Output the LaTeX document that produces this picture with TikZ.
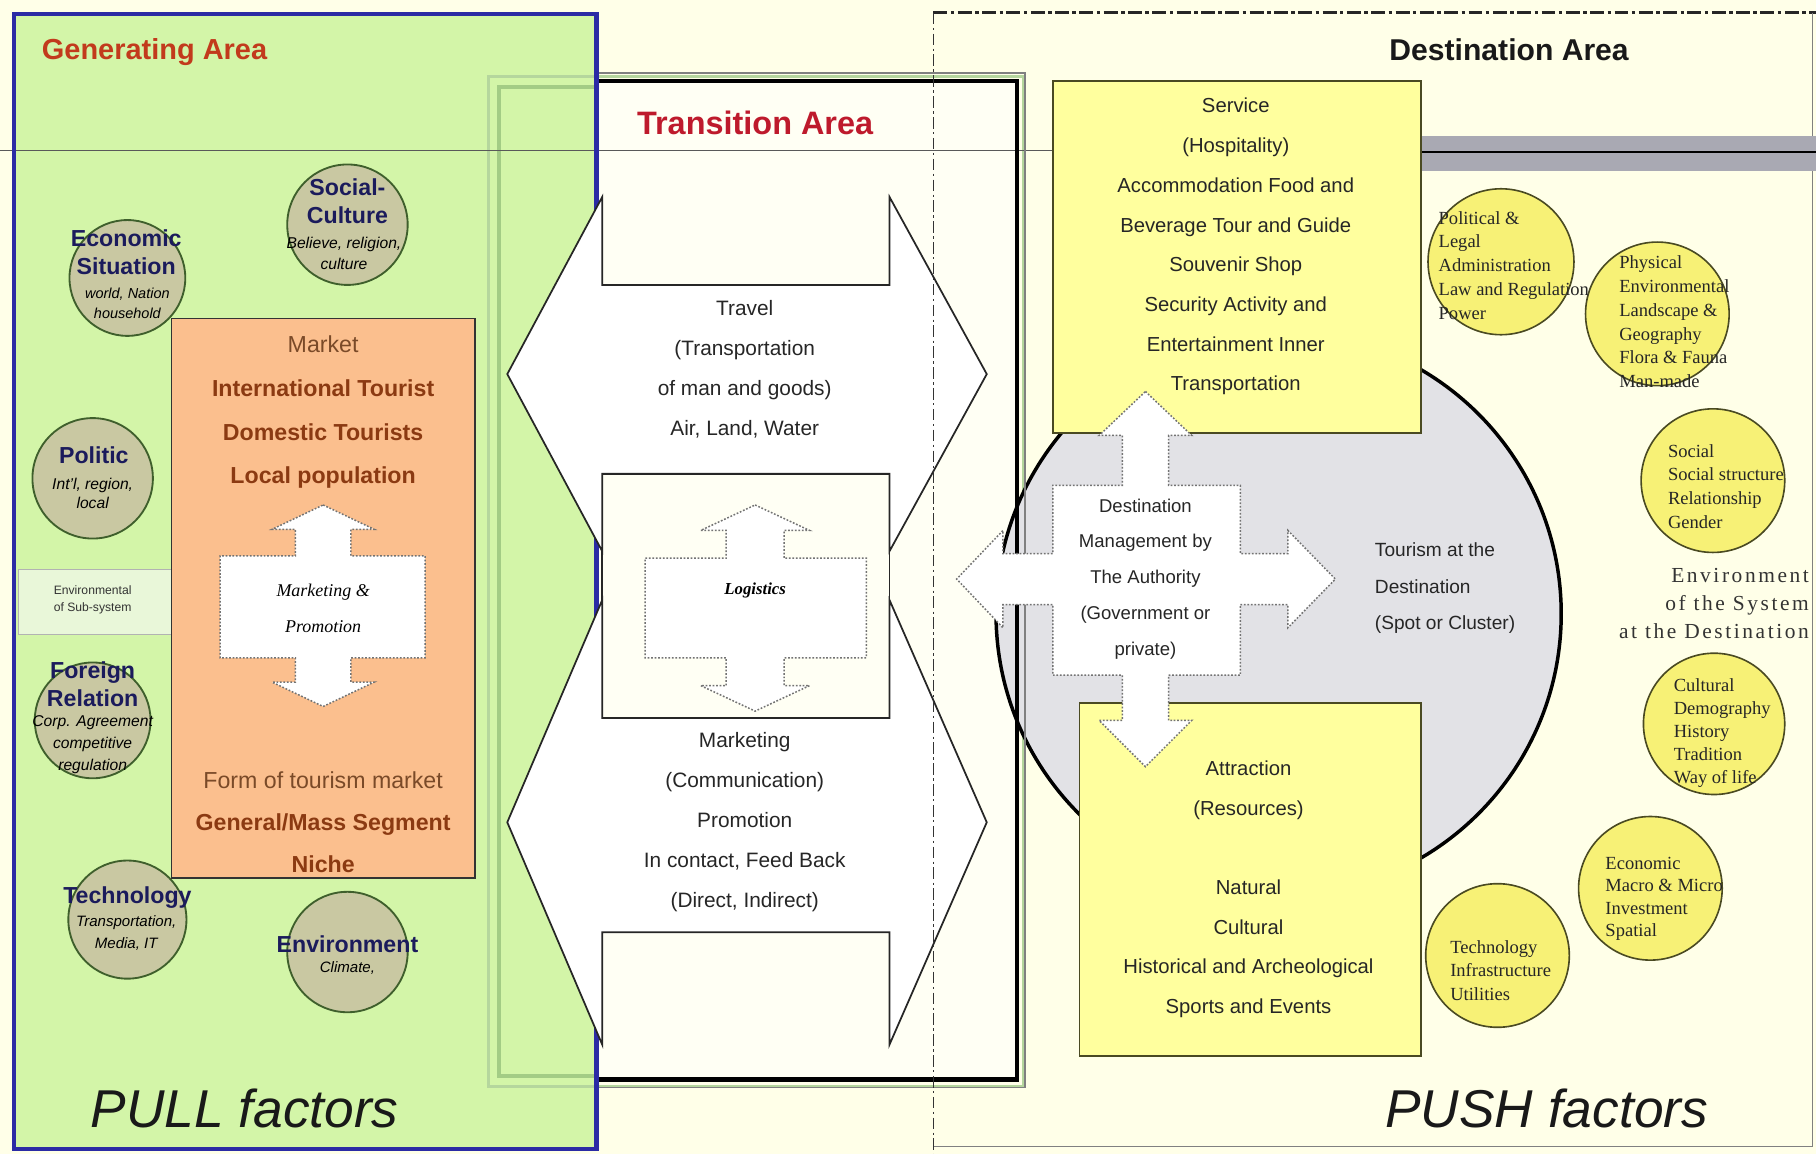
\documentclass[tikz,border=0pt]{standalone}
\usepackage{fontspec}
\setmainfont{Liberation Sans}
\newfontfamily\serifx{Liberation Serif}
\newfontfamily\serifsp[LetterSpace=12]{Liberation Serif}
\newcommand\myfs[2]{\fontsize{#1}{#2}\selectfont}
\definecolor{creambg}{HTML}{FFFFE8}
\definecolor{creamin}{HTML}{FFFFF4}
\definecolor{genfill}{HTML}{D3F5A8}
\definecolor{genblue}{HTML}{2B2BA5}
\definecolor{framegreen}{HTML}{A3CC85}
\definecolor{mktfill}{HTML}{FBBF8E}
\definecolor{mkttxt}{HTML}{8B3A12}
\definecolor{mktnorm}{HTML}{7A4A28}
\definecolor{khaki}{HTML}{C9C8A2}
\definecolor{khakiline}{HTML}{3F5F2C}
\definecolor{navytxt}{HTML}{1B1B5C}
\definecolor{ylwbox}{HTML}{FFFF9E}
\definecolor{ylwcirc}{HTML}{F7F176}
\definecolor{ylwline}{HTML}{4A4A22}
\definecolor{destgray}{HTML}{E2E2E6}
\definecolor{bandgray}{HTML}{A9A9B3}
\definecolor{gentitlec}{HTML}{C23A1C}
\definecolor{trantitlec}{HTML}{BE1A2C}
\definecolor{subenv}{HTML}{E9F7D9}
\tikzset{
  lbl/.style={inner sep=0pt, align=center},
  kcirc/.style={circle, draw=khakiline, line width=1.6pt, fill=khaki, inner sep=0pt},
  ycirc/.style={circle, draw=ylwline, line width=1.4pt, fill=ylwcirc, inner sep=0pt},
  ybox/.style={draw=ylwline, line width=1.5pt, fill=ylwbox, inner sep=0pt},
  bigarrow/.style={draw=black!85, line width=1.5pt, fill=white},
  dotarrow/.style={draw=black!55, line width=1.3pt, dash pattern=on 1.5pt off 1.5pt, fill=white},
  ctitle/.style={lbl, text=navytxt, font=\bfseries\myfs{20}{24}},
  csub/.style={lbl, font=\itshape\myfs{13.5}{18}},
  ytxt/.style={inner sep=0pt, align=left, font=\serifx\myfs{16}{20.5}, text=black!85, anchor=west},
  stxt/.style={lbl, font=\myfs{18}{34.5}, text=black!85},
  mtxt/.style={lbl, font=\myfs{16}{31}, text=black!85},
}
\begin{document}
\begin{tikzpicture}[x=1pt,y=-1pt]
\useasboundingbox (0,0) rectangle (1568,996);
\fill[creambg] (0,0) rectangle (1568,996);
% destination frame
\draw[black!85, line width=3pt, dash pattern=on 12pt off 3pt on 3pt off 3pt] (806,11) -- (1568,11);
\draw[gray, line width=1.2pt] (1565,11) -- (1565,990) -- (806,990);
% generating area fill
\fill[genfill] (12,12) rectangle (515,992);
% transition green double frame
\draw[framegreen!80, line width=3pt] (422,66) rectangle (884,938);
\draw[framegreen, line width=4pt] (431,75) rectangle (875,929);
% transition fill
\fill[creamin] (515,70) rectangle (878,932);
% horizontal divider
\draw[gray!70!black, line width=1.3pt] (0,130) -- (1227,130);
\fill[bandgray] (1227,117) rectangle (1568,148);
\draw[black, line width=1.5pt] (1227,131) -- (1568,131);
% grey destination circle
\node[circle, draw=black, line width=3pt, fill=destgray, minimum size=488pt, inner sep=0pt] (tourcirc) at (1104,530) {};
% transition black frame
\draw[gray, line width=1.2pt] (515,63) -- (885,63) -- (885,939) -- (515,939);
\draw[black, line width=4pt] (515,70) -- (878,70) -- (878,932) -- (515,932);
% blue generating border
\draw[genblue, line width=4pt] (12,12) rectangle (515,992);
% logistics box and transition arrows
\node[draw=black!85, line width=1.5pt, fill=creamin, minimum width=248pt, minimum height=211pt, inner sep=0pt] (logbox) at (644,514.5) {};
\draw[bigarrow] (520,170) -- (520,246) -- (768,246) -- (768,170) -- (852,323) -- (768,476) -- (768,409) -- (520,409) -- (520,476) -- (438,323) -- cycle;
\draw[bigarrow] (520,518) -- (520,620) -- (768,620) -- (768,518) -- (852,710) -- (768,902) -- (768,805) -- (520,805) -- (520,902) -- (438,710) -- cycle;
% vertical dash-dot line (over the arrows)
\draw[black!80, line width=1pt, dash pattern=on 10pt off 3pt on 2pt off 3pt] (806,11) -- (806,996);
\draw[dotarrow] (652,436) -- (699,458) -- (677,458) -- (677,482) -- (748,482) -- (748,568) -- (677,568) -- (677,592) -- (699,592) -- (652,614) -- (605,592) -- (627,592) -- (627,568) -- (557,568) -- (557,482) -- (627,482) -- (627,458) -- (605,458) -- cycle;
\node[lbl, font=\serifx\bfseries\itshape\myfs{14.5}{16}] (logtxt) at (652,510) {Logistics};
\node[stxt] (traveltxt) at (643,319) {Travel\\(Transportation\\of man and goods)\\Air, Land, Water};
\node[stxt] (mkttxtnode) at (643,710) {Marketing\\(Communication)\\Promotion\\In contact, Feed Back\\(Direct, Indirect)};
% khaki circles (generating area)
\node[kcirc, minimum size=100pt] (cecon) at (110,240) {};
\node[kcirc, minimum size=104pt] (csoc) at (300,194) {};
\node[kcirc, minimum size=104pt] (cpol) at (80,413) {};
\node[kcirc, minimum size=100pt] (cfor) at (80,622) {};
\node[kcirc, minimum size=102pt] (ctech) at (110,794) {};
\node[kcirc, minimum size=104pt] (cenv) at (300,822) {};
% environment of sub-system
\node[draw=gray!60, line width=0.8pt, fill=subenv, minimum width=132pt, minimum height=56pt, inner sep=0pt] (subbox) at (82,520) {};
\node[lbl, font=\myfs{10.5}{15}, text=black!80] (subtxt) at (80,518) {Environmental\\of Sub-system};
% market box
\node[draw=black!80, line width=1.5pt, fill=mktfill, minimum width=262pt, minimum height=483pt, inner sep=0pt] (mktbox) at (279,516.5) {};
\draw[dotarrow] (279,436) -- (323,457) -- (303,457) -- (303,480) -- (367,480) -- (367,568) -- (303,568) -- (303,589) -- (323,589) -- (279,610) -- (235,589) -- (255,589) -- (255,568) -- (190,568) -- (190,480) -- (255,480) -- (255,457) -- (235,457) -- cycle;
\node[lbl, font=\serifx\itshape\myfs{15.5}{31}] (mptxt) at (279,525) {Marketing \&\\Promotion};
\node[lbl, font=\myfs{20}{37.7}, text=mktnorm] (mkttop) at (279,356) {Market\\\textcolor{mkttxt}{\bfseries International Tourist}\\\textcolor{mkttxt}{\bfseries Domestic Tourists}\\\textcolor{mkttxt}{\bfseries Local population}};
\node[lbl, font=\myfs{20}{36.5}, text=mktnorm] (mktbot) at (279,710) {Form of tourism market\\\textcolor{mkttxt}{\bfseries General/Mass Segment}\\\textcolor{mkttxt}{\bfseries Niche}};
% khaki circle texts
\node[ctitle] (tecon) at (109,218) {Economic\\Situation};
\node[csub, font=\itshape\myfs{12.5}{17}] (secon) at (110,262) {world, Nation\\household};
\node[ctitle] (tsoc) at (300,173.5) {Social-\\Culture};
\node[csub] (ssoc) at (297,219) {Believe, religion,\\culture};
\node[ctitle] (tpol) at (81,393) {Politic};
\node[csub, font=\itshape\myfs{13.5}{16}] (spol) at (80,426) {Int'l, region,\\local};
\node[ctitle] (tfor) at (80,590.5) {Foreign\\Relation};
\node[csub, font=\itshape\myfs{13.5}{19}] (sfor) at (80,643) {Corp. Agreement\\competitive\\regulation};
\node[ctitle] (ttech) at (110,775) {Technology};
\node[csub, font=\itshape\myfs{13}{19}] (stech) at (109,805.5) {Transportation,\\Media, IT};
\node[ctitle] (tenv) at (300,815) {Environment};
\node[csub, font=\itshape\myfs{13}{18}] (senv) at (300,836) {Climate,};
% destination boxes
\node[ybox, minimum width=318pt, minimum height=304pt] (servbox) at (1068,222) {};
\node[ybox, minimum width=295pt, minimum height=305pt] (attrbox) at (1079.5,759.5) {};
\draw[dotarrow] (989,338) -- (1029,376) -- (1009,376) -- (1009,419) -- (1071,419) -- (1071,478) -- (1112,478) -- (1112,458) -- (1153,500) -- (1112,542) -- (1112,522) -- (1071,522) -- (1071,583) -- (1009,583) -- (1009,622) -- (1029,622) -- (989,662) -- (949,622) -- (969,622) -- (969,583) -- (909,583) -- (909,522) -- (866,522) -- (866,542) -- (826,500) -- (866,458) -- (866,478) -- (909,478) -- (909,419) -- (969,419) -- (969,376) -- (949,376) -- cycle;
\node[stxt, font=\myfs{17.5}{34.3}] (servtxt) at (1067,213) {Service\\(Hospitality)\\Accommodation Food and\\Beverage Tour and Guide\\Souvenir Shop\\Security Activity and\\Entertainment Inner\\Transportation};
\node[stxt, font=\myfs{17.5}{34.2}] (attrtxt) at (1078,768) {Attraction\\(Resources)\\\strut\\Natural\\Cultural\\Historical and Archeological\\Sports and Events};
\node[mtxt] (dmtxt) at (989,500) {Destination\\Management by\\The Authority\\(Government or\\private)};
\node[inner sep=0pt, align=left, anchor=west, font=\myfs{16.5}{31.5}, text=black!85] (tourtxt) at (1187,508) {Tourism at the\\Destination\\(Spot or Cluster)};
% yellow circles
\node[ycirc, minimum size=126pt] (ypol) at (1296,226) {};
\node[ycirc, minimum size=124pt] (yphy) at (1431,271) {};
\node[ycirc, minimum size=124pt] (ysoc) at (1479,415) {};
\node[ycirc, minimum size=122pt] (ycul) at (1480,625) {};
\node[ycirc, minimum size=124pt] (yeco) at (1425,767) {};
\node[ycirc, minimum size=124pt] (ytec) at (1293,825) {};
\node[ytxt] (tpolr) at (1242,229) {Political \&\\Legal\\Administration\\Law and Regulation\\Power};
\node[ytxt] (tphy) at (1398,278) {Physical\\Environmental\\Landscape \&\\Geography\\Flora \& Fauna\\Man-made};
\node[ytxt] (tsocr) at (1440,420) {Social\\Social structure\\Relationship\\Gender};
\node[ytxt, font=\serifx\myfs{16}{19.7}] (tcul) at (1445,633) {Cultural\\Demography\\History\\Tradition\\Way of life};
\node[ytxt, font=\serifx\myfs{16}{19.5}] (tecor) at (1386,776) {Economic\\Macro \& Micro\\Investment\\Spatial};
\node[ytxt] (ttecr) at (1252,838) {Technology\\Infrastructure\\Utilities};
\node[inner sep=0pt, align=right, anchor=east, font=\serifsp\myfs{18.5}{24}, text=black!80] (envsys) at (1562,521) {Environment\\of the System\\at the Destination};
% titles
\node[lbl, font=\bfseries\myfs{25}{30}, text=gentitlec, anchor=west] (gentitle) at (36,45) {Generating Area};
\node[lbl, font=\bfseries\myfs{28}{32}, text=trantitlec] (trtitle) at (652,106) {Transition Area};
\node[lbl, font=\bfseries\myfs{26}{30}, text=black!90] (dsttitle) at (1303,43) {Destination Area};
\node[lbl, font=\itshape\myfs{46}{50}, text=black!90, anchor=west] (pull) at (78,957) {PULL factors};
\node[lbl, font=\itshape\myfs{46}{50}, text=black!90, anchor=west] (push) at (1196,957) {PUSH factors};
\end{tikzpicture}
\end{document}
